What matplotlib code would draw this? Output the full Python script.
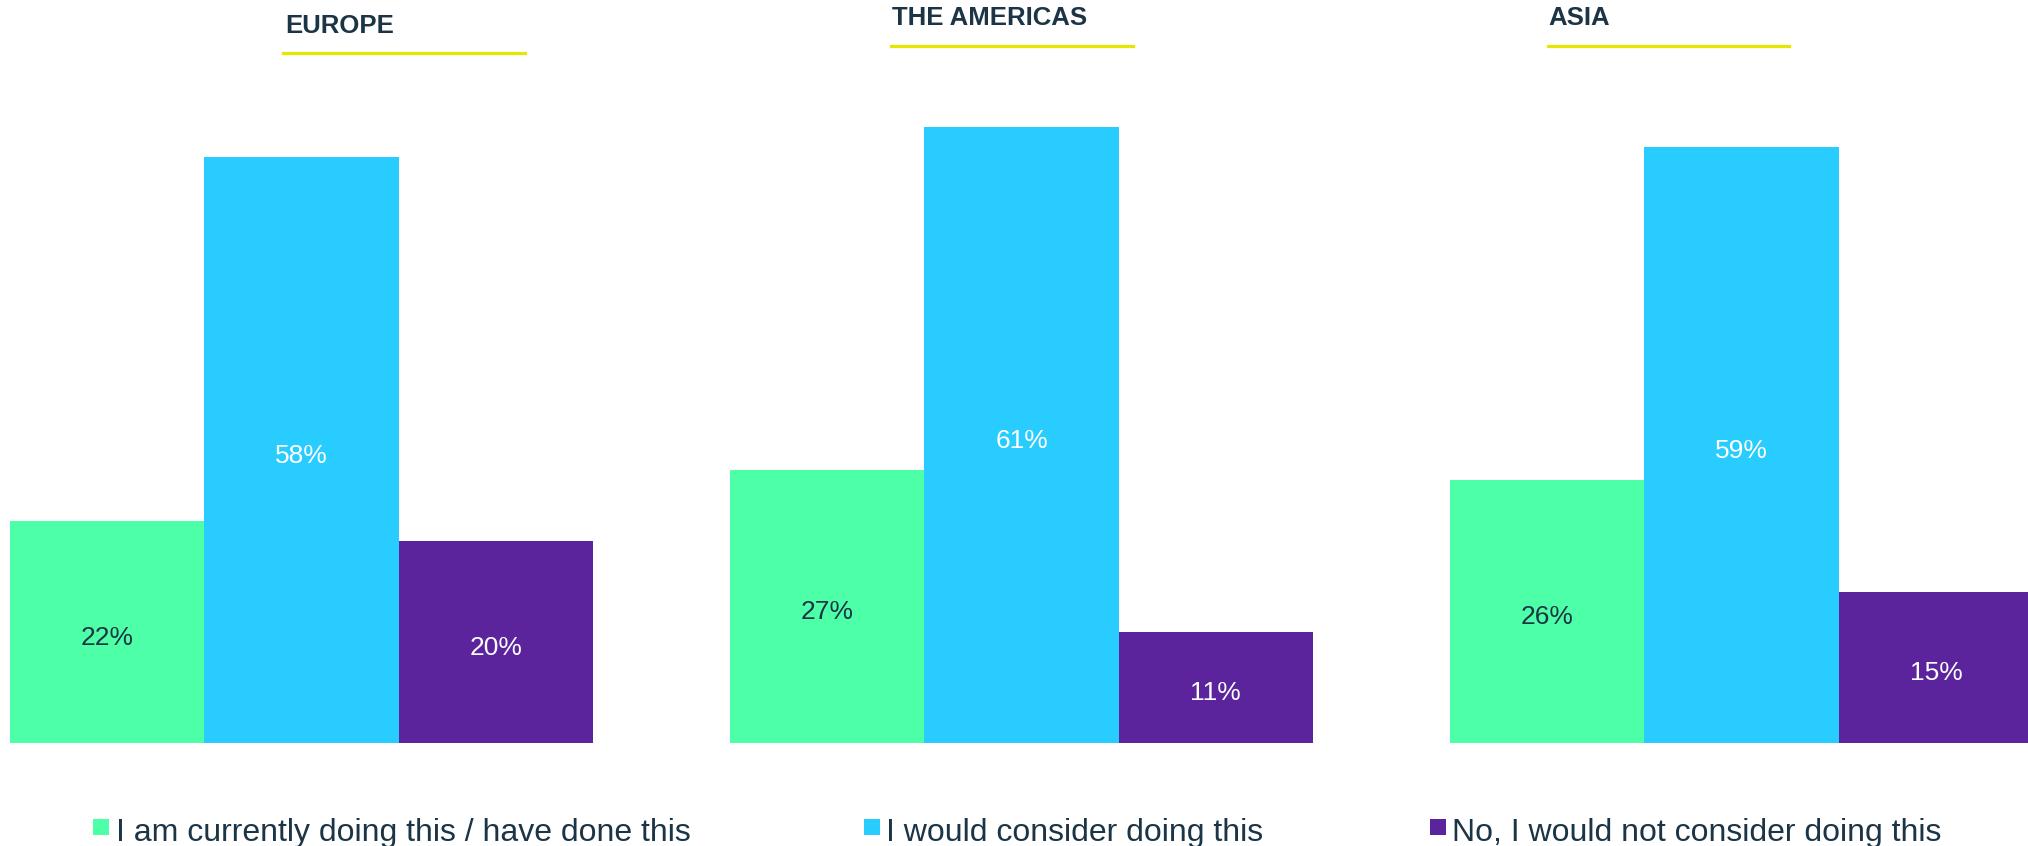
import matplotlib
matplotlib.use("Agg")
import matplotlib.pyplot as plt
from matplotlib.patches import Rectangle

plt.rcParams['font.family'] = ['Liberation Sans', 'DejaVu Sans']

regions = ['EUROPE', 'THE AMERICAS', 'ASIA']
answers = ['I am currently doing this / have done this',
           'I would consider doing this',
           'No, I would not consider doing this']
doing = [22, 27, 26]
consider = [58, 61, 59]
not_consider = [20, 11, 15]

colors = ['#4dffa6', '#29ccff', '#5c249c']
label_colors = ['#1b3446', 'white', 'white']
dark = '#1b3446'
yellow = '#e6e600'

W, H = 2028, 846
fig = plt.figure(figsize=(W / 100, H / 100), dpi=100)

# axes fills the width, baseline at y=743 px
base = 743
ax = fig.add_axes([0, (H - base) / H, 1, base / H])
px_per_pct = 10.1
bar_px = 194.3
ax.set_ylim(0, base / px_per_pct)
ax.set_xlim(-10 / bar_px, (W - 10) / bar_px)
ax.axis('off')

group_gap = 3.706
series = [doing, consider, not_consider]
for j, vals in enumerate(series):
    xs = [i * group_gap + j + 0.5 for i in range(len(regions))]
    bars = ax.bar(xs, vals, width=1.0, color=colors[j], linewidth=0)
    for b, v in zip(bars, vals):
        # baseline a little under the bar middle so the digits sit centred
        ax.text(b.get_x() + b.get_width() / 2, v / 2 - 1.25, f'{v}%',
                ha='center', va='baseline', fontsize=19, color=label_colors[j])

# region titles with yellow underline (figure pixels)
title_pos = [(285, 33, 283, 525, 53), (892, 25, 891, 1133, 46), (1548, 25, 1548, 1789, 46)]
for name, (tx, ty, lx0, lx1, ly) in zip(regions, title_pos):
    fig.text(tx / W, 1 - ty / H, name, fontsize=18.5, fontweight='bold',
             color=dark, ha='left', va='baseline')
    fig.add_artist(plt.Line2D([lx0 / W, lx1 / W], [1 - ly / H, 1 - ly / H],
                              color=yellow, linewidth=2.3, transform=fig.transFigure))

# legend row
leg_pos = [(93, 116), (864, 886), (1430, 1452)]
for lab, c, (mx, tx) in zip(answers, colors, leg_pos):
    fig.add_artist(Rectangle((mx / W, 1 - 835 / H), 16 / W, 16 / H,
                             facecolor=c, edgecolor='none', transform=fig.transFigure))
    fig.text(tx / W, 1 - 841 / H, lab, fontsize=23, color=dark,
             ha='left', va='baseline')

fig.savefig('out.png', dpi=100)
